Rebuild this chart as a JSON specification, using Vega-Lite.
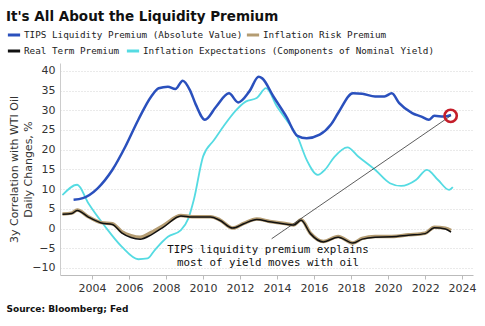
{
  "$schema": "https://vega.github.io/schema/vega-lite/v6.json",
  "width": 413,
  "height": 212,
  "autosize": "none",
  "padding": {"left": 60, "top": 63, "right": 12, "bottom": 51},
  "background": "white",
  "title": {
    "text": "It's All About the Liquidity Premium",
    "anchor": "start",
    "frame": "group",
    "font": "DejaVu Sans",
    "fontSize": 13.5,
    "fontWeight": "bold",
    "color": "#111",
    "dx": -54,
    "offset": 4
  },
  "config": {
    "view": {"stroke": null},
    "axis": {"labelFont": "DejaVu Sans", "labelFontSize": 11, "labelColor": "#333", "titleFont": "DejaVu Sans"},
    "legend": {
      "orient": "none",
      "direction": "horizontal",
      "title": null,
      "padding": 0,
      "symbolType": "stroke",
      "symbolStrokeWidth": 3,
      "symbolSize": 150,
      "labelFont": "DejaVu Sans Mono",
      "labelFontSize": 9.3,
      "labelColor": "#222",
      "labelOffset": 2,
      "labelLimit": 400
    }
  },
  "resolve": {"scale": {"color": "independent"}, "legend": {"color": "independent"}},
  "datasets": {
    "series": [
      {"date": "2003-01-01", "series": "TIPS Liquidity Premium (Absolute Value)", "value": 7.3},
      {"date": "2003-07-02", "series": "TIPS Liquidity Premium (Absolute Value)", "value": 7.7},
      {"date": "2004-04-20", "series": "TIPS Liquidity Premium (Absolute Value)", "value": 10.2},
      {"date": "2005-02-06", "series": "TIPS Liquidity Premium (Absolute Value)", "value": 14.9},
      {"date": "2005-10-20", "series": "TIPS Liquidity Premium (Absolute Value)", "value": 20.8},
      {"date": "2006-07-02", "series": "TIPS Liquidity Premium (Absolute Value)", "value": 27.6},
      {"date": "2007-03-14", "series": "TIPS Liquidity Premium (Absolute Value)", "value": 33.5},
      {"date": "2007-08-08", "series": "TIPS Liquidity Premium (Absolute Value)", "value": 35.6},
      {"date": "2008-02-06", "series": "TIPS Liquidity Premium (Absolute Value)", "value": 36.0},
      {"date": "2008-07-02", "series": "TIPS Liquidity Premium (Absolute Value)", "value": 35.4},
      {"date": "2008-11-25", "series": "TIPS Liquidity Premium (Absolute Value)", "value": 37.5},
      {"date": "2009-04-20", "series": "TIPS Liquidity Premium (Absolute Value)", "value": 35.0},
      {"date": "2009-08-08", "series": "TIPS Liquidity Premium (Absolute Value)", "value": 31.5},
      {"date": "2010-02-06", "series": "TIPS Liquidity Premium (Absolute Value)", "value": 27.6},
      {"date": "2010-09-14", "series": "TIPS Liquidity Premium (Absolute Value)", "value": 30.9},
      {"date": "2011-05-27", "series": "TIPS Liquidity Premium (Absolute Value)", "value": 34.3},
      {"date": "2011-11-25", "series": "TIPS Liquidity Premium (Absolute Value)", "value": 32.0},
      {"date": "2012-07-02", "series": "TIPS Liquidity Premium (Absolute Value)", "value": 34.8},
      {"date": "2013-01-01", "series": "TIPS Liquidity Premium (Absolute Value)", "value": 38.5},
      {"date": "2013-03-14", "series": "TIPS Liquidity Premium (Absolute Value)", "value": 38.1},
      {"date": "2013-10-20", "series": "TIPS Liquidity Premium (Absolute Value)", "value": 33.5},
      {"date": "2014-07-02", "series": "TIPS Liquidity Premium (Absolute Value)", "value": 28.4},
      {"date": "2015-02-06", "series": "TIPS Liquidity Premium (Absolute Value)", "value": 23.5},
      {"date": "2015-08-08", "series": "TIPS Liquidity Premium (Absolute Value)", "value": 22.9},
      {"date": "2016-04-20", "series": "TIPS Liquidity Premium (Absolute Value)", "value": 23.8},
      {"date": "2016-11-25", "series": "TIPS Liquidity Premium (Absolute Value)", "value": 26.3},
      {"date": "2017-04-20", "series": "TIPS Liquidity Premium (Absolute Value)", "value": 29.3},
      {"date": "2018-02-06", "series": "TIPS Liquidity Premium (Absolute Value)", "value": 34.3},
      {"date": "2018-08-08", "series": "TIPS Liquidity Premium (Absolute Value)", "value": 34.2},
      {"date": "2019-04-20", "series": "TIPS Liquidity Premium (Absolute Value)", "value": 33.5},
      {"date": "2019-10-20", "series": "TIPS Liquidity Premium (Absolute Value)", "value": 33.5},
      {"date": "2020-03-14", "series": "TIPS Liquidity Premium (Absolute Value)", "value": 34.3},
      {"date": "2020-08-08", "series": "TIPS Liquidity Premium (Absolute Value)", "value": 31.8},
      {"date": "2021-04-20", "series": "TIPS Liquidity Premium (Absolute Value)", "value": 29.3},
      {"date": "2021-10-20", "series": "TIPS Liquidity Premium (Absolute Value)", "value": 28.4},
      {"date": "2022-03-14", "series": "TIPS Liquidity Premium (Absolute Value)", "value": 27.6},
      {"date": "2022-07-02", "series": "TIPS Liquidity Premium (Absolute Value)", "value": 28.6},
      {"date": "2023-01-01", "series": "TIPS Liquidity Premium (Absolute Value)", "value": 28.4},
      {"date": "2023-05-27", "series": "TIPS Liquidity Premium (Absolute Value)", "value": 28.8},

      {"date": "2002-05-27", "series": "Inflation Expectations (Components of Nominal Yield)", "value": 8.5},
      {"date": "2003-03-14", "series": "Inflation Expectations (Components of Nominal Yield)", "value": 11.1},
      {"date": "2003-10-20", "series": "Inflation Expectations (Components of Nominal Yield)", "value": 6.4},
      {"date": "2004-09-14", "series": "Inflation Expectations (Components of Nominal Yield)", "value": 0.5},
      {"date": "2005-08-08", "series": "Inflation Expectations (Components of Nominal Yield)", "value": -4.6},
      {"date": "2006-07-02", "series": "Inflation Expectations (Components of Nominal Yield)", "value": -7.8},
      {"date": "2007-01-01", "series": "Inflation Expectations (Components of Nominal Yield)", "value": -7.6},
      {"date": "2007-05-27", "series": "Inflation Expectations (Components of Nominal Yield)", "value": -5.4},
      {"date": "2008-02-06", "series": "Inflation Expectations (Components of Nominal Yield)", "value": -2.1},
      {"date": "2008-10-20", "series": "Inflation Expectations (Components of Nominal Yield)", "value": -0.4},
      {"date": "2009-03-14", "series": "Inflation Expectations (Components of Nominal Yield)", "value": 2.5},
      {"date": "2009-07-02", "series": "Inflation Expectations (Components of Nominal Yield)", "value": 7.3},
      {"date": "2010-01-01", "series": "Inflation Expectations (Components of Nominal Yield)", "value": 18.3},
      {"date": "2010-08-08", "series": "Inflation Expectations (Components of Nominal Yield)", "value": 22.5},
      {"date": "2011-02-06", "series": "Inflation Expectations (Components of Nominal Yield)", "value": 25.9},
      {"date": "2011-10-20", "series": "Inflation Expectations (Components of Nominal Yield)", "value": 30.1},
      {"date": "2012-04-20", "series": "Inflation Expectations (Components of Nominal Yield)", "value": 32.2},
      {"date": "2012-11-25", "series": "Inflation Expectations (Components of Nominal Yield)", "value": 33.1},
      {"date": "2013-05-27", "series": "Inflation Expectations (Components of Nominal Yield)", "value": 35.6},
      {"date": "2014-01-01", "series": "Inflation Expectations (Components of Nominal Yield)", "value": 30.9},
      {"date": "2014-07-02", "series": "Inflation Expectations (Components of Nominal Yield)", "value": 27.6},
      {"date": "2015-02-06", "series": "Inflation Expectations (Components of Nominal Yield)", "value": 23.3},
      {"date": "2015-08-08", "series": "Inflation Expectations (Components of Nominal Yield)", "value": 17.4},
      {"date": "2016-03-14", "series": "Inflation Expectations (Components of Nominal Yield)", "value": 13.6},
      {"date": "2016-08-08", "series": "Inflation Expectations (Components of Nominal Yield)", "value": 15.0},
      {"date": "2017-02-06", "series": "Inflation Expectations (Components of Nominal Yield)", "value": 18.2},
      {"date": "2017-10-20", "series": "Inflation Expectations (Components of Nominal Yield)", "value": 20.6},
      {"date": "2018-05-27", "series": "Inflation Expectations (Components of Nominal Yield)", "value": 18.2},
      {"date": "2019-04-20", "series": "Inflation Expectations (Components of Nominal Yield)", "value": 14.9},
      {"date": "2020-02-06", "series": "Inflation Expectations (Components of Nominal Yield)", "value": 11.5},
      {"date": "2020-09-14", "series": "Inflation Expectations (Components of Nominal Yield)", "value": 10.8},
      {"date": "2021-07-02", "series": "Inflation Expectations (Components of Nominal Yield)", "value": 12.3},
      {"date": "2022-02-06", "series": "Inflation Expectations (Components of Nominal Yield)", "value": 14.9},
      {"date": "2022-09-14", "series": "Inflation Expectations (Components of Nominal Yield)", "value": 12.3},
      {"date": "2023-04-20", "series": "Inflation Expectations (Components of Nominal Yield)", "value": 9.8},
      {"date": "2023-07-02", "series": "Inflation Expectations (Components of Nominal Yield)", "value": 10.5},

      {"date": "2002-05-27", "series": "Inflation Risk Premium", "value": 3.7},
      {"date": "2002-11-25", "series": "Inflation Risk Premium", "value": 3.9},
      {"date": "2003-03-14", "series": "Inflation Risk Premium", "value": 4.7},
      {"date": "2003-10-20", "series": "Inflation Risk Premium", "value": 3.0},
      {"date": "2004-07-02", "series": "Inflation Risk Premium", "value": 1.5},
      {"date": "2005-02-06", "series": "Inflation Risk Premium", "value": 1.2},
      {"date": "2005-08-08", "series": "Inflation Risk Premium", "value": -0.8},
      {"date": "2006-02-06", "series": "Inflation Risk Premium", "value": -1.8},
      {"date": "2006-08-08", "series": "Inflation Risk Premium", "value": -2.2},
      {"date": "2007-03-14", "series": "Inflation Risk Premium", "value": -1.0},
      {"date": "2007-11-25", "series": "Inflation Risk Premium", "value": 0.9},
      {"date": "2008-10-20", "series": "Inflation Risk Premium", "value": 3.3},
      {"date": "2009-05-27", "series": "Inflation Risk Premium", "value": 3.0},
      {"date": "2010-05-27", "series": "Inflation Risk Premium", "value": 3.0},
      {"date": "2010-11-25", "series": "Inflation Risk Premium", "value": 2.2},
      {"date": "2011-08-08", "series": "Inflation Risk Premium", "value": 0.1},
      {"date": "2012-03-14", "series": "Inflation Risk Premium", "value": 1.3},
      {"date": "2012-11-25", "series": "Inflation Risk Premium", "value": 2.4},
      {"date": "2013-08-08", "series": "Inflation Risk Premium", "value": 1.8},
      {"date": "2014-07-02", "series": "Inflation Risk Premium", "value": 1.2},
      {"date": "2014-11-25", "series": "Inflation Risk Premium", "value": 0.9},
      {"date": "2015-04-20", "series": "Inflation Risk Premium", "value": 2.2},
      {"date": "2015-10-20", "series": "Inflation Risk Premium", "value": -1.2},
      {"date": "2016-07-02", "series": "Inflation Risk Premium", "value": -3.3},
      {"date": "2017-04-20", "series": "Inflation Risk Premium", "value": -2.0},
      {"date": "2018-02-06", "series": "Inflation Risk Premium", "value": -3.7},
      {"date": "2018-08-08", "series": "Inflation Risk Premium", "value": -2.5},
      {"date": "2019-04-20", "series": "Inflation Risk Premium", "value": -2.0},
      {"date": "2020-03-14", "series": "Inflation Risk Premium", "value": -2.0},
      {"date": "2021-02-06", "series": "Inflation Risk Premium", "value": -1.6},
      {"date": "2022-01-01", "series": "Inflation Risk Premium", "value": -1.2},
      {"date": "2022-07-02", "series": "Inflation Risk Premium", "value": 0.3},
      {"date": "2023-02-06", "series": "Inflation Risk Premium", "value": 0.1},
      {"date": "2023-05-27", "series": "Inflation Risk Premium", "value": -0.5},

      {"date": "2002-05-27", "series": "Real Term Premium", "value": 3.6},
      {"date": "2002-11-25", "series": "Real Term Premium", "value": 3.8},
      {"date": "2003-03-14", "series": "Real Term Premium", "value": 4.6},
      {"date": "2003-10-20", "series": "Real Term Premium", "value": 2.9},
      {"date": "2004-07-02", "series": "Real Term Premium", "value": 1.4},
      {"date": "2005-02-06", "series": "Real Term Premium", "value": 1.0},
      {"date": "2005-08-08", "series": "Real Term Premium", "value": -1.1},
      {"date": "2006-02-06", "series": "Real Term Premium", "value": -2.3},
      {"date": "2006-08-08", "series": "Real Term Premium", "value": -2.7},
      {"date": "2007-03-14", "series": "Real Term Premium", "value": -1.6},
      {"date": "2007-11-25", "series": "Real Term Premium", "value": 0.5},
      {"date": "2008-10-20", "series": "Real Term Premium", "value": 3.2},
      {"date": "2009-05-27", "series": "Real Term Premium", "value": 2.9},
      {"date": "2010-05-27", "series": "Real Term Premium", "value": 2.9},
      {"date": "2010-11-25", "series": "Real Term Premium", "value": 2.1},
      {"date": "2011-08-08", "series": "Real Term Premium", "value": 0.1},
      {"date": "2012-03-14", "series": "Real Term Premium", "value": 1.2},
      {"date": "2012-11-25", "series": "Real Term Premium", "value": 2.3},
      {"date": "2013-08-08", "series": "Real Term Premium", "value": 1.7},
      {"date": "2014-07-02", "series": "Real Term Premium", "value": 1.1},
      {"date": "2014-11-25", "series": "Real Term Premium", "value": 0.9},
      {"date": "2015-04-20", "series": "Real Term Premium", "value": 2.1},
      {"date": "2015-10-20", "series": "Real Term Premium", "value": -1.3},
      {"date": "2016-07-02", "series": "Real Term Premium", "value": -3.4},
      {"date": "2017-04-20", "series": "Real Term Premium", "value": -2.2},
      {"date": "2018-02-06", "series": "Real Term Premium", "value": -3.7},
      {"date": "2018-08-08", "series": "Real Term Premium", "value": -2.7},
      {"date": "2019-04-20", "series": "Real Term Premium", "value": -2.2},
      {"date": "2020-03-14", "series": "Real Term Premium", "value": -2.1},
      {"date": "2021-02-06", "series": "Real Term Premium", "value": -1.7},
      {"date": "2022-01-01", "series": "Real Term Premium", "value": -1.3},
      {"date": "2022-07-02", "series": "Real Term Premium", "value": 0.2},
      {"date": "2023-02-06", "series": "Real Term Premium", "value": -0.1},
      {"date": "2023-05-27", "series": "Real Term Premium", "value": -0.9}
    ],
    "zero": [{"value": 0}],
    "pointer": [{"date": "2013-09-15", "value": -2.6, "date2": "2023-05-20", "value2": 28.6}],
    "marker": [{"date": "2023-05-20", "value": 28.6}],
    "note": [{"date": "2013-07-05", "value": -4.0, "label": "TIPS liquidity premium explains\nmost of yield moves with oil"}]
  },
  "encoding": {
    "x": {
      "field": "date",
      "type": "temporal",
      "scale": {"domain": ["2002-04-08", "2024-08-03"], "nice": false},
      "axis": {
        "format": "%Y",
        "tickCount": {"interval": "year", "step": 2},
        "grid": false,
        "domainColor": "#bbb",
        "tickColor": "#bbb",
        "tickSize": 4,
        "labelPadding": 3,
        "labelFlush": false,
        "title": "Source: Bloomberg; Fed",
        "titleFontSize": 9,
        "titleFontWeight": "bold",
        "titleColor": "#111",
        "titleAnchor": "start",
        "titleAlign": "left",
        "titleBaseline": "alphabetic",
        "titleX": -54,
        "titleY": 36
      }
    },
    "y": {
      "field": "value",
      "type": "quantitative",
      "scale": {"domain": [-11.8, 42], "nice": false, "zero": false},
      "axis": {
        "values": [-10, -5, 0, 5, 10, 15, 20, 25, 30, 35, 40],
        "grid": true,
        "gridColor": "#d4d4d4",
        "gridDash": [1, 2],
        "domainColor": "#ccc",
        "ticks": false,
        "labelPadding": 5,
        "title": ["3y Correlation with WTI Oil", "Daily Changes, %"],
        "titleFontSize": 11,
        "titleFontWeight": "normal",
        "titleColor": "#333",
        "titlePadding": -2,
        "titleLineHeight": 14
      }
    }
  },
  "layer": [
    {
      "data": {"name": "zero"},
      "mark": {"type": "rule", "color": "#9a9a9a", "strokeDash": [3, 3], "strokeWidth": 1},
      "encoding": {"y": {"field": "value", "type": "quantitative"}}
    },
    {
      "data": {"name": "series"},
      "transform": [{"filter": "datum.series === 'Inflation Expectations (Components of Nominal Yield)'"}],
      "mark": {"type": "line", "strokeWidth": 1.8, "interpolate": "monotone"},
      "encoding": {
        "color": {"field": "series", "type": "nominal",
          "scale": {"domain": ["Inflation Expectations (Components of Nominal Yield)"], "range": ["#55dbe2"]},
          "legend": {"legendX": 65, "legendY": -20}}
      }
    },
    {
      "data": {"name": "series"},
      "transform": [{"filter": "datum.series === 'Inflation Risk Premium'"}],
      "mark": {"type": "line", "strokeWidth": 3.5, "interpolate": "monotone"},
      "encoding": {
        "color": {"field": "series", "type": "nominal",
          "scale": {"domain": ["Inflation Risk Premium"], "range": ["#b49c72"]},
          "legend": {"legendX": 185, "legendY": -36}}
      }
    },
    {
      "data": {"name": "series"},
      "transform": [{"filter": "datum.series === 'Real Term Premium'"}],
      "mark": {"type": "line", "strokeWidth": 1.5, "interpolate": "monotone"},
      "encoding": {
        "color": {"field": "series", "type": "nominal",
          "scale": {"domain": ["Real Term Premium"], "range": ["#111111"]},
          "legend": {"legendX": -54, "legendY": -20}}
      }
    },
    {
      "data": {"name": "series"},
      "transform": [{"filter": "datum.series === 'TIPS Liquidity Premium (Absolute Value)'"}],
      "mark": {"type": "line", "strokeWidth": 2.5, "interpolate": "monotone"},
      "encoding": {
        "color": {"field": "series", "type": "nominal",
          "scale": {"domain": ["TIPS Liquidity Premium (Absolute Value)"], "range": ["#2a50bd"]},
          "legend": {"legendX": -54, "legendY": -36}}
      }
    },
    {
      "data": {"name": "pointer"},
      "mark": {"type": "rule", "color": "#333", "strokeWidth": 0.8},
      "encoding": {
        "x2": {"field": "date2"},
        "y2": {"field": "value2"}
      }
    },
    {
      "data": {"name": "marker"},
      "mark": {"type": "point", "filled": false, "stroke": "#c41e2a", "strokeWidth": 2.6, "size": 150, "opacity": 1},
      "encoding": {}
    },
    {
      "data": {"name": "note"},
      "mark": {"type": "text", "font": "DejaVu Sans Mono", "fontSize": 10.8, "color": "#111", "align": "center", "baseline": "top", "lineBreak": "\n", "lineHeight": 12.5},
      "encoding": {
        "text": {"field": "label"}
      }
    }
  ]
}
